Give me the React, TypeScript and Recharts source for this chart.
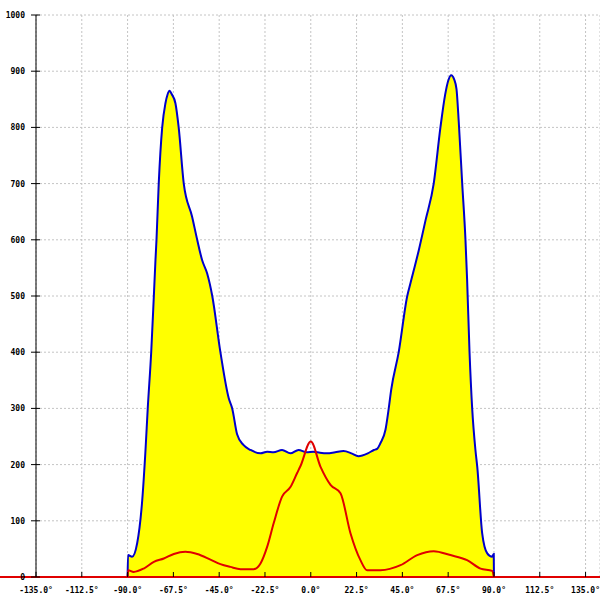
import React from "react";
import {
  ComposedChart,
  Area,
  Line,
  XAxis,
  YAxis,
  CartesianGrid,
  ReferenceLine,
} from "recharts";

// Blue (outer) profile: angle in degrees, intensity
const blueAngles = [
  -90.0, -89.8, -87.8, -85.3, -82.8, -81.2, -80.1, -78.4, -77.1, -76.3, -75.8,
  -74.7, -73.0, -71.4, -70.4, -69.4, -68.3, -66.5, -64.9, -62.4, -58.3, -55.8,
  -53.4, -50.9, -48.4, -44.4, -40.3, -38.6, -36.2, -33.1, -29.6, -24.7, -21.4,
  -18.3, -14.1, -10.0, -6.0, -2.0, 1.3, 4.5, 8.1, 12.0, 16.1, 20.0, 23.4, 28.0,
  31.0, 32.6, 34.2, 36.7, 38.3, 39.5, 43.2, 47.4, 49.0, 53.1, 56.4, 60.4, 63.7,
  66.0, 67.6, 69.0, 70.4, 71.6, 72.7, 74.4, 76.0, 76.8, 78.0, 79.3, 80.9, 81.8,
  84.2, 86.7, 89.1, 89.9, 90.0,
];
const blueValues = [
  0, 39, 36, 60, 137, 226, 300, 400, 500, 564, 600, 700, 800, 843, 858, 865,
  859, 843, 800, 700, 641, 600, 564, 540, 500, 400, 318, 300, 254, 235, 226,
  220, 223, 222, 226, 220, 226, 222, 223, 221, 220, 222, 224, 220, 215, 220,
  226, 228, 238, 262, 300, 333, 400, 500, 523, 582, 635, 700, 800, 858, 884,
  893, 886, 868, 810, 700, 600, 530, 400, 300, 226, 196, 78, 42, 36, 41, 0,
];

// Red (inner) profile
const redAngles = [
  -90.0, -89.7, -87.0, -82.1, -77.1, -72.2, -67.3, -61.6, -55.8, -49.3, -44.4,
  -39.5, -34.5, -28.0, -24.7, -21.4, -18.2, -14.1, -10.0, -6.7, -5.1, 0.0, 4.8,
  9.7, 14.6, 19.5, 24.4, 27.7, 34.2, 44.1, 52.3, 60.4, 68.6, 76.8, 83.4, 89.1,
  90.0,
];
const redValues = [
  0, 12, 9, 15, 27, 33, 41, 45, 41, 31, 23, 18, 14, 14, 24, 54, 96, 143, 160,
  185, 197, 241, 196, 164, 149, 78, 30, 12, 12, 21, 39, 46, 39, 30, 15, 11, 0,
];

const xTicks = [-135, -112.5, -90, -67.5, -45, -22.5, 0, 22.5, 45, 67.5, 90, 112.5, 135];
const yTicks = [0, 100, 200, 300, 400, 500, 600, 700, 800, 900, 1000];

const blueData = blueAngles.map((a, i) => ({ x: a, v: blueValues[i] }));
const redData = redAngles.map((a, i) => ({ x: a, v: redValues[i] }));

const FONT = "'DejaVu Sans Mono', monospace";

const XTick = (props: any) => {
  const { x, y, payload } = props;
  return (
    <g>
      <line x1={x} x2={x} y1={y - 5} y2={y} stroke="#000" strokeWidth={1} />
      <text
        x={x}
        y={y + 16}
        textAnchor="middle"
        fontFamily={FONT}
        fontSize={8}
        fontWeight="bold"
        fill="#000"
      >
        {payload.value.toFixed(1) + "°"}
      </text>
    </g>
  );
};

const YTick = (props: any) => {
  const { x, y, payload } = props;
  return (
    <g>
      <line x1={x - 5} x2={x + 4} y1={y} y2={y} stroke="#000" strokeWidth={1} />
      <text
        x={x - 11}
        y={y + 3}
        textAnchor="end"
        fontFamily={FONT}
        fontSize={8}
        fontWeight="bold"
        fill="#000"
      >
        {String(payload.value)}
      </text>
    </g>
  );
};

export default function App() {
  return (
    <div style={{ position: "absolute", left: 0, top: 0, width: 600, height: 600, background: "#fff" }}>
      <ComposedChart
        width={600}
        height={600}
        margin={{ top: 15, right: 0, bottom: 0, left: 0 }}
      >
        <CartesianGrid stroke="#c4c4c4" strokeDasharray="2 2" />
        <XAxis
          type="number"
          dataKey="x"
          domain={[-135, 142.1]}
          ticks={xTicks}
          allowDataOverflow
          interval={0}
          height={23}
          axisLine={false}
          tickLine={false}
          tickSize={0}
          tickMargin={0}
          tick={<XTick />}
        />
        <YAxis
          type="number"
          domain={[0, 1000]}
          ticks={yTicks}
          allowDataOverflow
          interval={0}
          width={36}
          axisLine={{ stroke: "#000", strokeWidth: 1 }}
          tickLine={false}
          tickSize={0}
          tickMargin={0}
          tick={<YTick />}
        />
        <ReferenceLine
          segment={[
            { x: -152.7, y: 0 },
            { x: 142.1, y: 0 },
          ]}
          ifOverflow="visible"
          stroke="#e00000"
          strokeWidth={2}
        />
        <Area
          data={blueData}
          dataKey="v"
          type="monotone"
          stroke="#0000cc"
          strokeWidth={2}
          fill="#ffff00"
          fillOpacity={1}
          isAnimationActive={false}
          dot={false}
          activeDot={false}
        />
        <Line
          data={redData}
          dataKey="v"
          type="monotone"
          stroke="#e00000"
          strokeWidth={2}
          dot={false}
          activeDot={false}
          isAnimationActive={false}
        />
      </ComposedChart>
    </div>
  );
}
